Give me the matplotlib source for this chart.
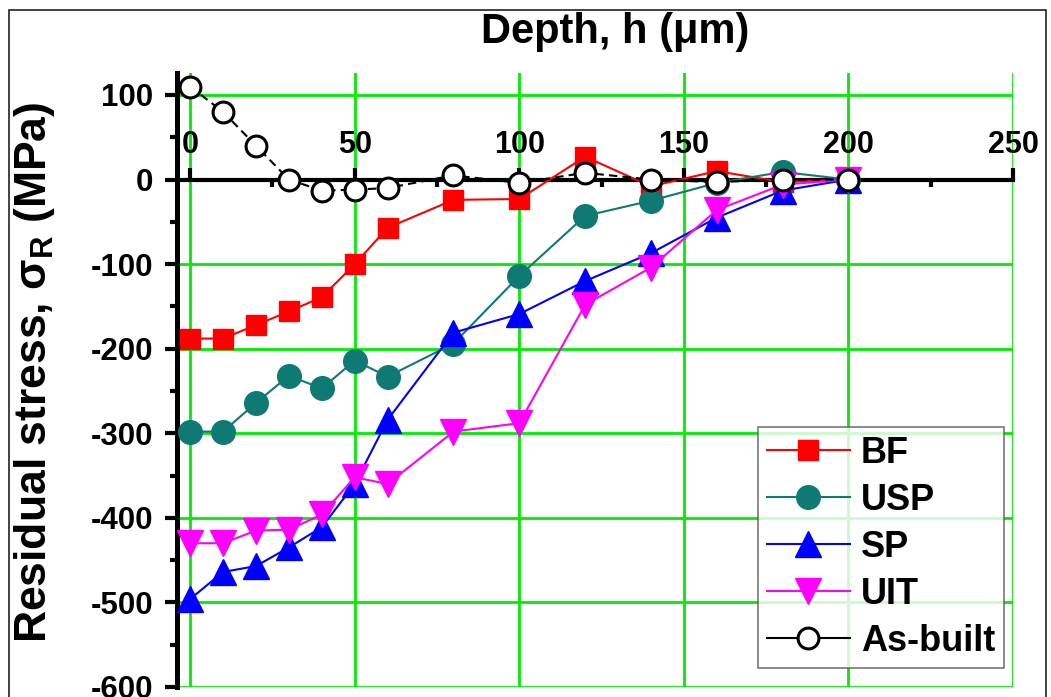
import matplotlib
matplotlib.use('Agg')
import matplotlib.pyplot as plt
from matplotlib.patches import Rectangle
from matplotlib.lines import Line2D
from matplotlib.ticker import MultipleLocator

plt.rcParams['font.family'] = ['Liberation Sans', 'DejaVu Sans']
plt.rcParams['font.weight'] = 'bold'
plt.rcParams['axes.unicode_minus'] = False
plt.rcParams['mathtext.fontset'] = 'custom'
plt.rcParams['mathtext.rm'] = 'Liberation Sans:bold'
plt.rcParams['mathtext.it'] = 'Liberation Sans:bold'
plt.rcParams['mathtext.bf'] = 'Liberation Sans:bold'

depth = [0, 10, 20, 30, 40, 50, 60, 80, 100, 120, 140, 160, 180, 200]
bf = [-188, -188, -172, -156, -139, -100, -57, -24, -23, 27, -8, 10, -3, 0]
usp = [-298, -298, -264, -232, -247, -214, -233, -194, -114, -43, -25, -4, 9, 0]
sp = [-496, -464, -457, -435, -411, -360, -284, -181, -159, -120, -87, -45, -13, 0]
uit = [-430, -430, -415, -414, -396, -352, -360, -298, -288, -148, -104, -36, -6, 0]
as_built = [110, 80, 40, 0, -13, -12, -10, 5, -4, 8, 0, -3, 0, 0]

grid_green = '#00ee00'
teal = '#0f7a74'

fig = plt.figure(figsize=(10.51, 6.97), dpi=100)
ax = fig.add_axes([177 / 1051, 1 - 687 / 697, (1013 - 177) / 1051, (687 - 73) / 697])

ax.set_xlim(-4, 250)
ax.set_ylim(-600, 126)

# green grid drawn by hand so it stops at the data box
for gx in range(0, 251, 50):
    ax.plot([gx, gx], [-600, 126], color=grid_green, lw=2, zorder=1)
for gy in [100, -100, -200, -300, -400, -500, -600]:
    ax.plot([-4, 250], [gy, gy], color=grid_green, lw=2, zorder=1)

ax.plot(depth, bf, color='red', lw=1.5, marker='s', ms=15, mec='red', mfc='red', zorder=4)
ax.plot(depth, usp, color=teal, lw=1.5, marker='o', ms=17, mec=teal, mfc=teal, zorder=4)
ax.plot(depth, sp, color='blue', lw=1.5, marker='^', ms=19, mec='blue', mfc='blue', zorder=4)
ax.plot(depth, uit, color='magenta', lw=1.5, marker='v', ms=19, mec='magenta', mfc='magenta', zorder=4)
ax.plot(depth, as_built, color='black', lw=1.5, ls=(0, (4, 2.5)), marker='o', ms=15, mec='black',
        mfc='white', mew=2.2, zorder=5)

handles = [
    Line2D([], [], color='red', lw=1.5, marker='s', ms=15, mec='red', mfc='red'),
    Line2D([], [], color=teal, lw=1.5, marker='o', ms=17, mec=teal, mfc=teal),
    Line2D([], [], color='blue', lw=1.5, marker='^', ms=19, mec='blue', mfc='blue'),
    Line2D([], [], color='magenta', lw=1.5, marker='v', ms=19, mec='magenta', mfc='magenta'),
    Line2D([], [], color='black', lw=1.5, marker='o', ms=15, mec='black', mfc='white', mew=2.2),
]
labels = ['BF', 'USP', 'SP', 'UIT', 'As-built']

ax.spines['right'].set_visible(False)
ax.spines['bottom'].set_visible(False)
ax.spines['top'].set_position(('data', 0))
ax.spines['top'].set_linewidth(3)
ax.spines['left'].set_linewidth(3.6)
ax.spines['top'].set_bounds(-4, 250)

ax.xaxis.set_ticks_position('top')
ax.xaxis.set_major_locator(MultipleLocator(50))
ax.xaxis.set_minor_locator(MultipleLocator(25))
ax.yaxis.set_major_locator(MultipleLocator(100))
ax.yaxis.set_minor_locator(MultipleLocator(50))
ax.tick_params(axis='x', which='major', direction='out', length=9, width=3, labelsize=22, pad=5)
ax.tick_params(axis='x', which='minor', direction='in', length=5, width=3)
ax.tick_params(axis='y', which='major', direction='out', length=9, width=3, labelsize=22.5, pad=8)
ax.tick_params(axis='y', which='minor', direction='out', length=5, width=3)
for lbl in ax.get_xticklabels() + ax.get_yticklabels():
    lbl.set_fontweight('bold')

fig.text(615 / 1051, 1 - 32 / 697, 'Depth, h (\u03bcm)', fontsize=30, fontweight='bold',
         ha='center', va='center')
fig.text(35 / 1051, 1 - 372 / 697, r'Residual stress, $\sigma_\mathrm{R}$ (MPa)', fontsize=32,
         fontweight='bold', rotation=90, ha='center', va='center')

leg = ax.legend(handles, labels, loc='upper right', bbox_to_anchor=(1004 / 1051, 1 - 427 / 697),
                bbox_transform=fig.transFigure, frameon=True, fancybox=False,
                borderaxespad=0, borderpad=0.25, labelspacing=0.33, handlelength=2.3,
                handletextpad=0.3, prop={'weight': 'bold', 'size': 26})
leg.get_frame().set_edgecolor('#555555')
leg.get_frame().set_linewidth(1.2)
leg.set_zorder(10)

fig.patches.append(Rectangle((9 / 1051, -0.05), (1046 - 9) / 1051, 1 - 10 / 697 + 0.05,
                             transform=fig.transFigure, fill=False, edgecolor='#222222', lw=1.2))

plt.savefig('out.png', dpi=100)
